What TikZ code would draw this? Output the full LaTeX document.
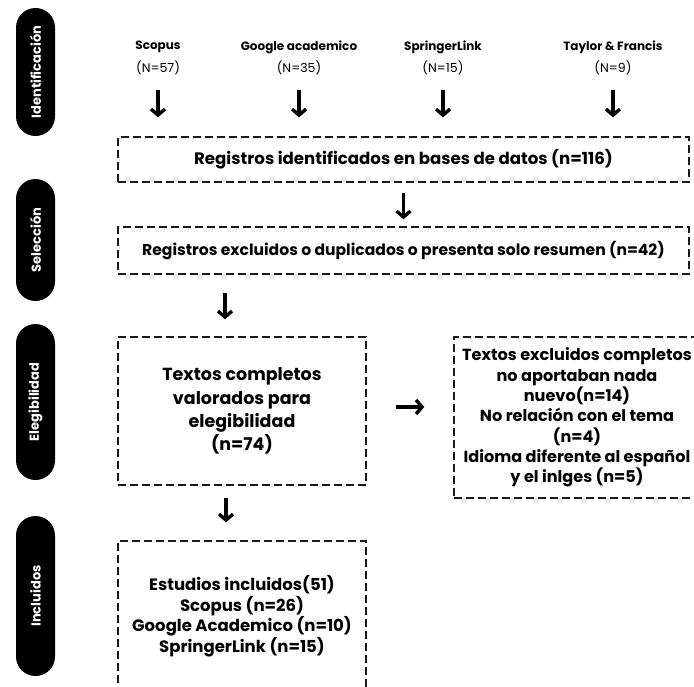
\documentclass[tikz,border=0pt]{standalone}
\usepackage{fontspec}
\setmainfont{Poppins}
\usetikzlibrary{arrows.meta}
\begin{document}
\begin{tikzpicture}[x=1pt,y=-1pt,
  pill/.style={fill=black, rounded corners=19.5pt, minimum width=39pt, inner sep=0pt},
  pilltext/.style={text=white, font=\bfseries\fontsize{13}{15}\selectfont, rotate=90, inner sep=0pt},
  dbox/.style={draw=black!90, dash pattern=on 8pt off 4pt, line width=1.4pt, inner sep=0pt, align=center, text=black},
  srcname/.style={font=\bfseries\fontsize{12}{14}\selectfont, inner sep=0pt},
  srcnum/.style={font=\fontsize{12.5}{15}\selectfont, inner sep=0pt},
  arr/.style={line width=3.4pt, -{Straight Barb[length=6pt, width=14pt, line width=3.4pt]}},
]
\useasboundingbox (0,0) rectangle (694,686);

% phase pills
\node[pill, minimum height=128pt] (pI) at (35.5,72) {};
\node[pilltext] (tI) at (35.5,72) {Identificación};
\node[pill, minimum height=122pt] (pS) at (35.5,240) {};
\node[pilltext] (tS) at (35.5,240) {Selección};
\node[pill, minimum height=156pt] (pE) at (35.5,402) {};
\node[pilltext] (tE) at (35.5,402) {Elegibilidad};
\node[pill, minimum height=160pt] (pC) at (35.5,596) {};
\node[pilltext] (tC) at (35.5,596) {Incluidos};

% sources
\node[srcname] (s1) at (158,47) {Scopus};
\node[srcnum]  (n1) at (158,68) {(N=57)};
\node[srcname] (s2) at (299,47) {Google academico};
\node[srcnum]  (n2) at (299,68) {(N=35)};
\node[srcname] (s3) at (443,47) {SpringerLink};
\node[srcnum]  (n3) at (443,68) {(N=15)};
\node[srcname] (s4) at (613,47) {Taylor \& Francis};
\node[srcnum]  (n4) at (613,68) {(N=9)};

% boxes
\node[dbox, minimum width=571pt, minimum height=45pt, font=\bfseries\fontsize{16.6}{20}\selectfont] (b1) at (403.5,159.5)
  {Registros identificados en bases de datos (n=116)};
\node[dbox, minimum width=571pt, minimum height=47pt, font=\bfseries\fontsize{15.6}{19}\selectfont] (b2) at (403.5,250.5)
  {Registros excluidos o duplicados o presenta solo resumen (n=42)};
\node[dbox, minimum width=248pt, minimum height=148pt, font=\bfseries\fontsize{17.5}{22.3}\selectfont] (b3) at (242,411)
  {Textos completos\\[1pt]valorados para\\[1pt]elegibilidad\\[1pt](n=74)};
\node[dbox, minimum width=248pt, minimum height=150pt, font=\bfseries\fontsize{16.5}{20.5}\selectfont] (b4) at (242,616)
  {Estudios incluidos(51)\\Scopus (n=26)\\Google Academico (n=10)\\SpringerLink (n=15)};
\node[dbox, minimum width=246pt, minimum height=161pt, font=\bfseries\fontsize{16.1}{20.3}\selectfont] (b5) at (577,417.5)
  {Textos excluidos completos\\no aportaban nada\\nuevo(n=14)\\No relación con el tema\\(n=4)\\Idioma diferente al español\\y el inlges (n=5)};

% arrows
\foreach \n in {n1,n2,n3,n4}
  \draw[arr, shorten <=15pt, shorten >=19pt] (\n.south) -- (\n.south |- b1.north);
\draw[arr, shorten <=10pt, shorten >=7pt] (b1.south) -- (b2.north);
\draw[arr, shorten <=18pt, shorten >=17pt] ([xshift=-17pt]b2.south -| b3.north) -- ([xshift=-17pt]b3.north);
\draw[arr, shorten <=12pt, shorten >=18pt] ([xshift=-16pt]b3.south) -- ([xshift=-16pt]b4.north);
\draw[arr, shorten <=29pt, shorten >=29pt] ([yshift=4pt]b3.east) -- ([yshift=4pt]b3.east -| b5.west);
\end{tikzpicture}
\end{document}
